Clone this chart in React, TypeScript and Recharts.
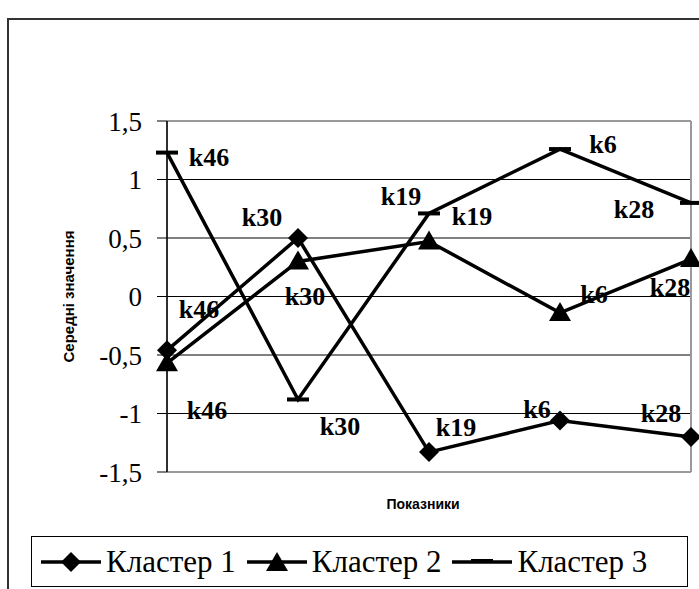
import React from "react";
import {
  LineChart,
  Line,
  XAxis,
  YAxis,
  CartesianGrid,
  ReferenceLine,
  LabelList,
} from "recharts";

const categories = ["k46", "k30", "k19", "k6", "k28"];
const cluster1 = [-0.46, 0.5, -1.33, -1.06, -1.2];
const cluster2 = [-0.57, 0.3, 0.47, -0.14, 0.32];
const cluster3 = [1.23, -0.88, 0.71, 1.26, 0.8];
const yTicks = [-1.5, -1, -0.5, 0, 0.5, 1, 1.5];
const seriesNames = ["Кластер 1", "Кластер 2", "Кластер 3"];

// label offsets (label centre relative to point), placed by hand like in Excel
const offsets1 = [[32, -41], [-36, -21], [27, -25], [-23, -12], [-30, -24]];
const offsets2 = [[40, 47], [7, 35], [43, -26], [34, -19], [-21, 28]];
const offsets3 = [[42, 4], [42, 27], [-28, -17], [43, -5], [-57, 6]];

const data = categories.map((name, i) => ({
  name,
  c1: cluster1[i],
  c2: cluster2[i],
  c3: cluster3[i],
}));

const SERIF = `"Liberation Serif", "Times New Roman", serif`;
const SANS = `"Liberation Sans", Arial, sans-serif`;

function Diamond({ cx, cy }: any) {
  if (cx == null || cy == null) return null;
  const r = 10;
  return (
    <polygon
      points={`${cx},${cy - r} ${cx + r},${cy} ${cx},${cy + r} ${cx - r},${cy}`}
      fill="#000"
    />
  );
}

function Triangle({ cx, cy }: any) {
  if (cx == null || cy == null) return null;
  return (
    <polygon
      points={`${cx},${cy - 11} ${cx + 11},${cy + 8} ${cx - 11},${cy + 8}`}
      fill="#000"
    />
  );
}

function Dash({ cx, cy }: any) {
  if (cx == null || cy == null) return null;
  return <rect x={cx - 11} y={cy - 2} width={22} height={4} fill="#000" />;
}

function makeLabel(offsets: number[][]) {
  return (props: any) => {
    const { x, y, value, index } = props;
    const [dx, dy] = offsets[index] || [0, 0];
    return (
      <text
        x={x + dx}
        y={y + dy + 9}
        textAnchor="middle"
        style={{ fontFamily: SERIF, fontWeight: 700, fontSize: 26 }}
        fill="#000"
      >
        {value}
      </text>
    );
  };
}

function LegendIcon({ kind }: { kind: number }) {
  return (
    <svg width={60} height={24} style={{ display: "block" }}>
      <line x1={0} y1={12} x2={60} y2={12} stroke="#000" strokeWidth={3.5} />
      {kind === 0 && <Diamond cx={30} cy={12} />}
      {kind === 1 && <Triangle cx={30} cy={13} />}
      {kind === 2 && <Dash cx={30} cy={11} />}
    </svg>
  );
}

export default function App() {
  return (
    <div
      style={{
        position: "absolute",
        left: 0,
        top: 0,
        width: 699,
        height: 589,
        overflow: "hidden",
        background: "#fff",
        fontFamily: SERIF,
      }}
    >
      <div
        style={{
          position: "absolute",
          left: 7,
          top: 18,
          width: 720,
          height: 620,
          border: "2px solid #333",
          boxSizing: "border-box",
        }}
      />
      <div style={{ position: "absolute", left: 0, top: 0 }}>
        <LineChart
          width={699}
          height={589}
          data={data}
          margin={{ top: 121, right: 8, bottom: 77, left: 0 }}
        >
          <CartesianGrid vertical={false} stroke="#000" strokeWidth={1} />
          <CartesianGrid horizontal={false} stroke="#777" strokeWidth={1} />
          <ReferenceLine y={1.5} stroke="#999" strokeWidth={2} />
          <ReferenceLine x="k28" stroke="#999" strokeWidth={2} />
          <XAxis
            dataKey="name"
            tick={false}
            tickLine={false}
            height={40}
            axisLine={{ stroke: "#999", strokeWidth: 2 }}
            label={(p: any) => {
              const vb = p.viewBox;
              return (
                <text
                  x={vb.x + vb.width / 2 - 6}
                  y={vb.y + 37}
                  textAnchor="middle"
                  style={{ fontFamily: SANS, fontWeight: 700, fontSize: 14 }}
                  fill="#000"
                >
                  Показники
                </text>
              );
            }}
          />
          <YAxis
            width={167}
            domain={[-1.5, 1.5]}
            ticks={yTicks}
            interval={0}
            tickSize={10}
            tickMargin={15}
            tickLine={{ stroke: "#000" }}
            axisLine={{ stroke: "#000", strokeWidth: 1.5 }}
            tickFormatter={(v: number) => String(v).replace(".", ",")}
            tick={{ style: { fontFamily: SERIF, fontSize: 27 }, fill: "#000" }}
            label={(p: any) => {
              const vb = p.viewBox;
              const cx = vb.x + 68;
              const cy = vb.y + vb.height / 2;
              return (
                <text
                  x={cx}
                  y={cy}
                  transform={`rotate(-90 ${cx} ${cy})`}
                  textAnchor="middle"
                  dominantBaseline="central"
                  style={{ fontFamily: SANS, fontWeight: 700, fontSize: 15 }}
                  fill="#000"
                >
                  Середні значення
                </text>
              );
            }}
          />
          <Line
            dataKey="c3"
            name={seriesNames[2]}
            type="linear"
            stroke="#000"
            strokeWidth={3.5}
            dot={<Dash />}
            activeDot={false}
            isAnimationActive={false}
          >
            <LabelList dataKey="name" content={makeLabel(offsets3)} />
          </Line>
          <Line
            dataKey="c2"
            name={seriesNames[1]}
            type="linear"
            stroke="#000"
            strokeWidth={3.5}
            dot={<Triangle />}
            activeDot={false}
            isAnimationActive={false}
          >
            <LabelList dataKey="name" content={makeLabel(offsets2)} />
          </Line>
          <Line
            dataKey="c1"
            name={seriesNames[0]}
            type="linear"
            stroke="#000"
            strokeWidth={3.5}
            dot={<Diamond />}
            activeDot={false}
            isAnimationActive={false}
          >
            <LabelList dataKey="name" content={makeLabel(offsets1)} />
          </Line>
        </LineChart>
      </div>
      <div
        style={{
          position: "absolute",
          left: 31,
          top: 536,
          width: 657,
          height: 51,
          border: "1px solid #000",
          boxSizing: "border-box",
          display: "flex",
          alignItems: "center",
          paddingLeft: 9,
          fontFamily: SERIF,
          fontSize: 31,
          color: "#000",
          whiteSpace: "nowrap",
        }}
      >
        {seriesNames.map((n, i) => (
          <div
            key={n}
            style={{ display: "flex", alignItems: "center", marginRight: 11 }}
          >
            <LegendIcon kind={i} />
            <span style={{ marginLeft: 5 }}>{n}</span>
          </div>
        ))}
      </div>
    </div>
  );
}
